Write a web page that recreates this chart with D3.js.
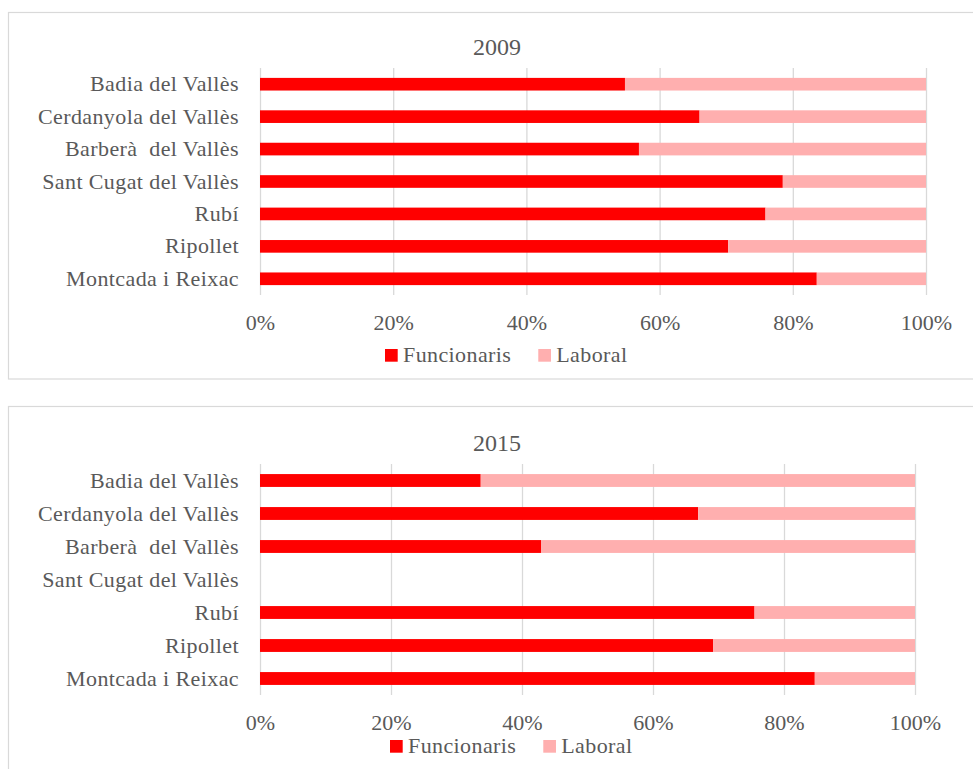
<!DOCTYPE html>
<html>
<head>
<meta charset="utf-8">
<script src="https://cdn.jsdelivr.net/npm/d3@7"></script>
<style>
  body { margin: 0; background: #fff; }
  svg text { font-family: "Liberation Serif", "DejaVu Serif", serif; fill: #595959; }
</style>
</head>
<body>
<div id="chart"></div>
<script>
const categories = ["Badia del Vallès", "Cerdanyola del Vallès", "Barberà  del Vallès", "Sant Cugat del Vallès", "Rubí", "Ripollet", "Montcada i Reixac"];
const seriesNames = ["Funcionaris", "Laboral"];
const funcionaris2009 = [54.8, 66.0, 56.9, 78.5, 75.9, 70.3, 83.6];
const laboral2009 = [45.2, 34.0, 43.1, 21.5, 24.1, 29.7, 16.4];
const funcionaris2015 = [33.7, 66.9, 42.9, null, 75.5, 69.2, 84.7];
const laboral2015 = [66.3, 33.1, 57.1, null, 24.5, 30.8, 15.3];
const tickValues = [0, 0.2, 0.4, 0.6, 0.8, 1];
const colors = ["#ff0000", "#ffafaf"];

const panels = [
    { title: "2009", func: funcionaris2009, lab: laboral2009,
      box: [8.5, 12.5, 1000, 366.5], titleY: 55,
      x0: 260, x1: 926, y0: 68, y1: 295, legendX: 385, legendY: 349 },
    { title: "2015", func: funcionaris2015, lab: laboral2015,
      box: [8.5, 406.5, 1000, 400], titleY: 451,
      x0: 260, x1: 915, y0: 464, y1: 695, legendX: 390, legendY: 740 }
];

const svg = d3.select("#chart").append("svg")
    .attr("width", 973)
    .attr("height", 769);

panels.forEach(p => {
    const g = svg.append("g");

    g.append("rect")
        .attr("x", p.box[0]).attr("y", p.box[1])
        .attr("width", p.box[2]).attr("height", p.box[3])
        .attr("fill", "#fff")
        .attr("stroke", "#d9d9d9")
        .attr("stroke-width", 1.2);

    const rows = categories.map((c, i) => ({
        name: c,
        Funcionaris: p.func[i],
        Laboral: p.lab[i]
    }));
    const valid = rows.filter(d => d.Funcionaris != null);

    const stacked = d3.stack()
        .keys(seriesNames)
        .offset(d3.stackOffsetExpand)(valid);

    const x = d3.scaleLinear().domain([0, 1]).range([p.x0, p.x1]);
    const y = d3.scaleBand()
        .domain(categories)
        .range([p.y0, p.y1])
        .paddingInner(0.61)
        .paddingOuter(0.305);

    // gridlines + percent ticks
    g.append("g")
        .attr("transform", `translate(0,${p.y1})`)
        .call(d3.axisBottom(x).tickValues(tickValues).tickFormat(d3.format(".0%"))
            .tickSizeInner(-(p.y1 - p.y0)).tickSizeOuter(0).tickPadding(19))
        .call(a => a.select(".domain").remove())
        .call(a => a.selectAll(".tick line").attr("stroke", "#d9d9d9").attr("stroke-width", 1.3))
        .call(a => a.selectAll(".tick text")
            .style("font-family", "Liberation Serif").style("font-size", "22px").attr("fill", "#595959"));

    g.append("g")
        .selectAll("g")
        .data(stacked)
        .join("g")
        .attr("fill", (d, i) => colors[i])
        .selectAll("rect")
        .data(d => d)
        .join("rect")
        .attr("x", d => x(d[0]))
        .attr("width", d => x(d[1]) - x(d[0]))
        .attr("y", d => y(d.data.name))
        .attr("height", y.bandwidth());

    g.append("g")
        .attr("transform", `translate(${p.x0},0)`)
        .call(d3.axisLeft(y).tickSize(0).tickPadding(21))
        .call(a => a.select(".domain").remove())
        .call(a => a.selectAll(".tick text")
            .style("font-family", "Liberation Serif").style("font-size", "22px")
            .style("letter-spacing", "0.4px")
            .style("white-space", "pre").attr("fill", "#595959"));

    g.append("text")
        .attr("x", 497)
        .attr("y", p.titleY)
        .attr("text-anchor", "middle")
        .style("font-size", "24px")
        .text(p.title);

    // legend
    let lx = p.legendX;
    seriesNames.forEach((s, i) => {
        g.append("rect")
            .attr("x", lx).attr("y", p.legendY)
            .attr("width", 12.7).attr("height", 12.7)
            .attr("fill", colors[i]);
        const t = g.append("text")
            .attr("x", lx + 18)
            .attr("y", p.legendY + 13)
            .style("font-size", "22px")
            .style("letter-spacing", "0.4px")
            .text(s);
        lx += 18 + t.node().getComputedTextLength() + 27;
    });
});
</script>
</body>
</html>
